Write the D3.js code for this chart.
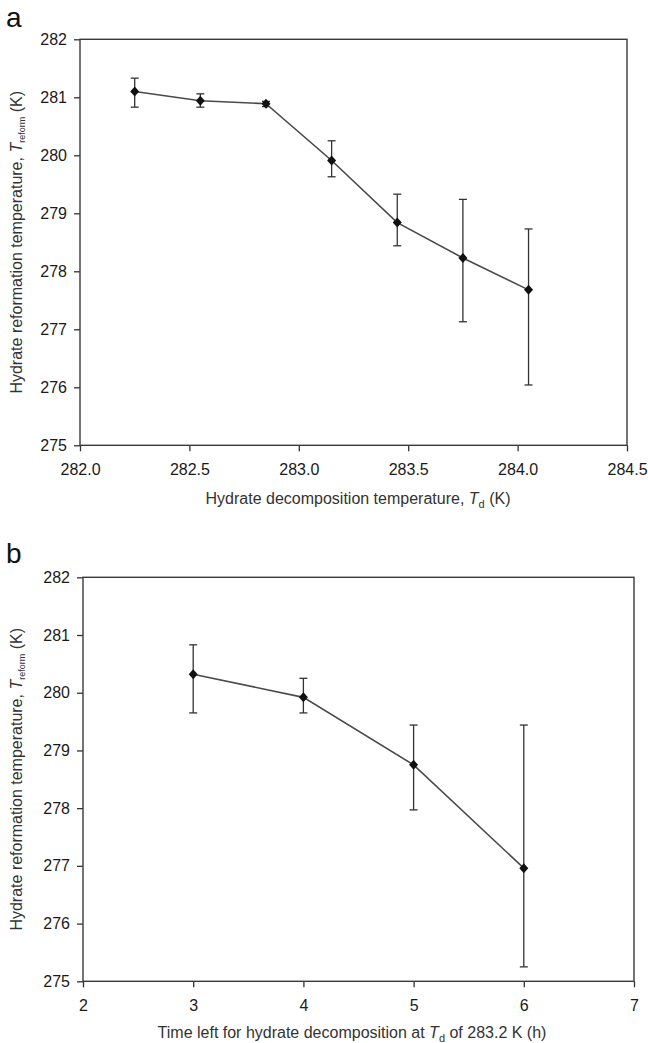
<!DOCTYPE html>
<html>
<head>
<meta charset="utf-8">
<script src="https://cdn.jsdelivr.net/npm/d3@7"></script>
<style>
  body { margin: 0; background: #fff; }
  svg { display: block; font-family: "Liberation Sans", Arial, sans-serif; }
</style>
</head>
<body>
<div id="chart"></div>
<script>
// panel a: reformation temp vs decomposition temp
const decompTemps = [282.25, 282.55, 282.85, 283.15, 283.45, 283.75, 284.05];
const reformA = [281.10, 280.94, 280.89, 279.91, 278.84, 278.23, 277.68];
const errLowA = [280.83, 280.83, 280.84, 279.63, 278.44, 277.13, 276.04];
const errHighA = [281.33, 281.06, 280.93, 280.25, 279.33, 279.24, 278.73];
const xTicksA = [282.0, 282.5, 283.0, 283.5, 284.0, 284.5];

// panel b: reformation temp vs time left at Td 283.2 K
const hoursLeft = [3, 4, 5, 6];
const reformB = [280.32, 279.92, 278.75, 276.96];
const errLowB = [279.65, 279.65, 277.97, 275.25];
const errHighB = [280.83, 280.25, 279.44, 279.44];
const xTicksB = [2, 3, 4, 5, 6, 7];

const yTicks = [275, 276, 277, 278, 279, 280, 281, 282];

const W = 648, H = 1043;
const svg = d3.select("#chart").append("svg")
  .attr("width", W)
  .attr("height", H);

function drawPanel(opt) {
  const x = d3.scaleLinear().domain(opt.xDomain).range([opt.left, opt.right]);
  const y = d3.scaleLinear().domain([275, 282]).range([opt.bottom, opt.top]);
  const g = svg.append("g");

  g.append("text")
    .attr("x", 6)
    .attr("y", opt.labelY)
    .attr("font-size", 28)
    .attr("fill", "#111")
    .text(opt.label);

  // y axis
  const ya = g.append("g")
    .attr("transform", `translate(${opt.left},0)`)
    .call(d3.axisLeft(y).tickValues(yTicks).tickFormat(d3.format("d")).tickSize(6).tickSizeOuter(0).tickPadding(7));
  ya.select(".domain").remove();
  ya.selectAll(".tick line").attr("stroke", "#333").attr("stroke-width", 1.3);
  ya.selectAll(".tick text").attr("font-size", 16).attr("fill", "#1a1a1a")
    .attr("font-family", "Liberation Sans, Arial, sans-serif");

  // x axis
  const xa = g.append("g")
    .attr("transform", `translate(0,${opt.bottom})`)
    .call(d3.axisBottom(x).tickValues(opt.xTicks).tickFormat(opt.fmt).tickSize(6).tickSizeOuter(0).tickPadding(12));
  xa.select(".domain").remove();
  xa.selectAll(".tick line").attr("stroke", "#333").attr("stroke-width", 1.3);
  xa.selectAll(".tick text").attr("font-size", 16).attr("fill", "#1a1a1a")
    .attr("font-family", "Liberation Sans, Arial, sans-serif");

  // frame
  g.append("rect")
    .attr("x", opt.left)
    .attr("y", opt.top)
    .attr("width", opt.right - opt.left)
    .attr("height", opt.bottom - opt.top)
    .attr("fill", "none")
    .attr("stroke", "#3a3a3a")
    .attr("stroke-width", 1.4);

  const pts = opt.xs.map((v, i) => ({ x: v, y: opt.ys[i], lo: opt.lo[i], hi: opt.hi[i] }));

  // error bars
  const eb = g.append("g").attr("stroke", "#333").attr("stroke-width", 1.3);
  eb.selectAll(".bar").data(pts).join("line")
    .attr("x1", d => x(d.x)).attr("x2", d => x(d.x))
    .attr("y1", d => y(d.lo)).attr("y2", d => y(d.hi));
  eb.selectAll(".capHi").data(pts).join("line").attr("class", "capHi")
    .attr("x1", d => x(d.x) - 4).attr("x2", d => x(d.x) + 4)
    .attr("y1", d => y(d.hi)).attr("y2", d => y(d.hi));
  eb.selectAll(".capLo").data(pts).join("line").attr("class", "capLo")
    .attr("x1", d => x(d.x) - 4).attr("x2", d => x(d.x) + 4)
    .attr("y1", d => y(d.lo)).attr("y2", d => y(d.lo));

  // line
  g.append("path")
    .datum(pts)
    .attr("fill", "none")
    .attr("stroke", "#4a4a4a")
    .attr("stroke-width", 1.6)
    .attr("d", d3.line().x(d => x(d.x)).y(d => y(d.y)));

  // diamond markers
  g.selectAll(".pt").data(pts).join("path")
    .attr("class", "pt")
    .attr("transform", d => `translate(${x(d.x)},${y(d.y)})`)
    .attr("d", "M0,-5L4.5,0L0,5L-4.5,0Z")
    .attr("fill", "#111");

  // x title
  const xt = g.append("text")
    .attr("x", opt.xTitleX)
    .attr("y", opt.xTitleY)
    .attr("text-anchor", "middle")
    .attr("font-size", 16)
    .attr("fill", "#333");
  xt.append("tspan").text(opt.xTitle[0]);
  xt.append("tspan").attr("font-style", "italic").text("T");
  xt.append("tspan").attr("font-size", 11).attr("dy", 4).text("d");
  xt.append("tspan").attr("dy", -4).text(opt.xTitle[1]);

  // y title
  const cy = (opt.top + opt.bottom) / 2;
  const yt = g.append("text")
    .attr("transform", `translate(22,${cy}) rotate(-90)`)
    .attr("text-anchor", "middle")
    .attr("font-size", 16)
    .attr("fill", "#333");
  yt.append("tspan").text("Hydrate reformation temperature, ");
  yt.append("tspan").attr("font-style", "italic").text("T");
  yt.append("tspan").attr("font-size", 9).attr("dy", 3).text("reform");
  yt.append("tspan").attr("dy", -3).text(" (K)");
}

drawPanel({
  label: "a", labelY: 27,
  left: 80, right: 627, top: 39.3, bottom: 445.3,
  xDomain: [282, 284.5], xTicks: xTicksA, fmt: d3.format(".1f"),
  xs: decompTemps, ys: reformA, lo: errLowA, hi: errHighA,
  xTitle: ["Hydrate decomposition temperature, ", " (K)"],
  xTitleX: 358, xTitleY: 504
});

drawPanel({
  label: "b", labelY: 563,
  left: 83, right: 634, top: 577.3, bottom: 981.3,
  xDomain: [2, 7], xTicks: xTicksB, fmt: d3.format("d"),
  xs: hoursLeft, ys: reformB, lo: errLowB, hi: errHighB,
  xTitle: ["Time left for hydrate decomposition at ", " of 283.2 K (h)"],
  xTitleX: 352, xTitleY: 1038
});
</script>
</body>
</html>
